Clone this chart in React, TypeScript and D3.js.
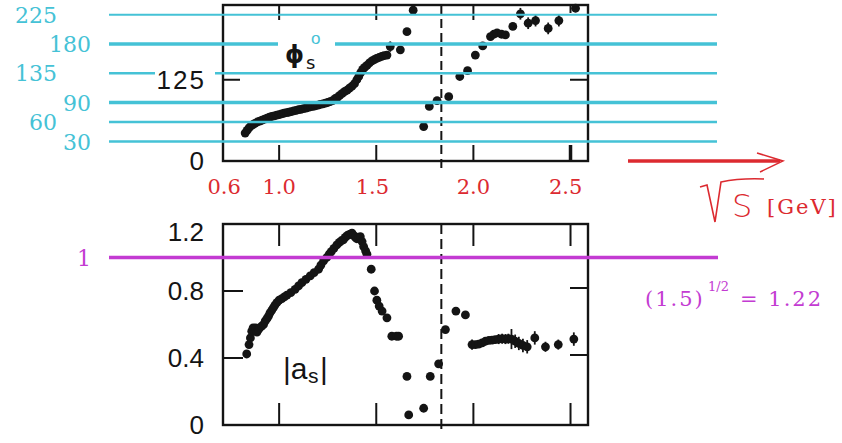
import React from 'react';
import * as d3 from 'd3';

// --- phase phi_s (degrees) ---
const phiEnergy = [
  0.825, 0.835, 0.845, 0.855, 0.865, 0.875, 0.888, 0.9, 0.912, 0.925, 0.938, 0.95, 0.962, 0.975, 0.988,
  1.0, 1.012, 1.025, 1.038, 1.05, 1.062, 1.075, 1.088, 1.1, 1.112, 1.125, 1.138, 1.15, 1.162, 1.175,
  1.188, 1.2, 1.212, 1.225, 1.238, 1.25, 1.262, 1.275, 1.288, 1.3, 1.312, 1.325, 1.338, 1.35, 1.362,
  1.375, 1.388, 1.4, 1.41, 1.42, 1.43, 1.44, 1.452, 1.465, 1.478, 1.49, 1.502, 1.515, 1.528, 1.54, 1.555,
  1.572, 1.624, 1.658, 1.69, 1.744, 1.773, 1.813, 1.873, 1.93, 1.97, 2.01, 2.048, 2.088, 2.105, 2.122,
  2.145, 2.165, 2.203, 2.242, 2.282, 2.32, 2.385, 2.44, 2.526,
];
const phiDeg = [
  43, 47, 51, 54, 56, 58, 60, 61.5, 63, 64.5, 66, 67.5, 68.5, 69.5, 70.5,
  71.5, 72.5, 73.5, 74.5, 75, 76, 77, 78, 79, 79.5, 80.5, 81.5, 82.5, 83.5, 84,
  85, 86, 87, 88, 89, 90, 91.5, 93, 96, 98, 101, 104, 107, 109, 112,
  115, 119, 125, 130, 136, 141, 144, 147, 151, 154, 156, 158, 159.5, 161, 162, 163,
  176, 171, 199, 232, 53, 84, 93, 99, 130, 139, 163, 177, 191.5, 195, 197,
  195, 194, 207, 226.5, 212, 216, 204, 216, 235,
];
const phiErr = [
  0, 0, 0, 0, 0, 0, 0, 0, 0, 0, 0, 0, 0, 0, 0,
  0, 0, 0, 0, 0, 0, 0, 0, 0, 0, 0, 0, 0, 0, 0,
  0, 0, 0, 0, 0, 0, 0, 0, 0, 0, 0, 0, 0, 0, 0,
  0, 0, 0, 0, 0, 0, 0, 0, 0, 0, 0, 0, 0, 0, 0, 0,
  8, 0, 0, 6, 0, 0, 5, 0, 0, 0, 0, 0, 0, 0, 0,
  0, 0, 0, 9, 9, 9, 9, 9, 6,
];

// --- modulus |a_s| ---
const ampEnergy = [
  0.833, 0.845, 0.852, 0.859, 0.866, 0.872, 0.879, 0.886, 0.893, 0.9, 0.91, 0.92, 0.928, 0.937, 0.945,
  0.953, 0.962, 0.97, 0.978, 0.988, 1.0, 1.014, 1.027, 1.04, 1.06, 1.082, 1.1, 1.117, 1.138, 1.16,
  1.18, 1.203, 1.215, 1.229, 1.245, 1.258, 1.268, 1.282, 1.297, 1.31, 1.32, 1.33, 1.34, 1.35, 1.357,
  1.366, 1.375, 1.385, 1.393, 1.4, 1.41, 1.418, 1.427, 1.435, 1.445, 1.452, 1.474, 1.491, 1.503, 1.515,
  1.53, 1.555, 1.58, 1.604, 1.615, 1.658, 1.667, 1.744, 1.778, 1.821, 1.856, 1.91, 1.959, 1.993, 2.01,
  2.027, 2.045, 2.062, 2.08, 2.096, 2.113, 2.13, 2.148, 2.165, 2.18, 2.196, 2.215, 2.234, 2.255, 2.277,
  2.316, 2.371, 2.437, 2.517,
];
const ampValue = [
  0.424, 0.48, 0.52, 0.56, 0.58, 0.56, 0.58, 0.555, 0.57, 0.58, 0.59, 0.6, 0.62, 0.635, 0.65,
  0.67, 0.685, 0.7, 0.715, 0.73, 0.745, 0.755, 0.765, 0.775, 0.79, 0.81, 0.83, 0.85, 0.87, 0.89,
  0.91, 0.93, 0.955, 0.98, 1.0, 1.02, 1.035, 1.055, 1.075, 1.09, 1.1, 1.105, 1.12, 1.13, 1.135,
  1.14, 1.145, 1.13, 1.12, 1.112, 1.12, 1.124, 1.095, 1.065, 1.04, 1.02, 0.93, 0.8, 0.745, 0.71,
  0.68, 0.64, 0.53, 0.53, 0.53, 0.29, 0.06, 0.1, 0.29, 0.365, 0.57, 0.68, 0.657, 0.48, 0.48,
  0.483, 0.49, 0.5, 0.505, 0.507, 0.51, 0.513, 0.515, 0.513, 0.515, 0.513, 0.5, 0.487, 0.475, 0.467,
  0.52, 0.467, 0.48, 0.513,
];
const ampErr = [
  0, 0, 0, 0, 0, 0, 0, 0, 0, 0, 0, 0, 0, 0, 0,
  0, 0, 0, 0, 0, 0, 0, 0, 0, 0, 0, 0, 0, 0, 0,
  0, 0, 0, 0, 0, 0, 0, 0, 0, 0, 0, 0, 0, 0, 0,
  0, 0, 0, 0, 0, 0, 0, 0, 0, 0, 0, 0, 0, 0, 0,
  0, 0, 0, 0, 0, 0, 0, 0, 0, 0, 0, 0, 0, 0.03, 0.02,
  0.02, 0.02, 0.02, 0.02, 0.02, 0.02, 0.03, 0.03, 0.03, 0.03, 0.06, 0.04, 0.04, 0.04, 0.04,
  0.04, 0.03, 0.03, 0.04,
];

// --- ticks and labels ---
const energyTicks = [1.0, 1.5, 2.0, 2.5];
const phiTickLabels = [0, 125];
const degreeGuides = [225, 180, 135, 90, 60, 30];
const ampTickLabels = [0, 0.4, 0.8, 1.2];
const ampInnerTicks = [0.4, 0.8];
const redEnergyLabels = ['0.6', '1.0', '1.5', '2.0', '2.5'];
const redEnergyLabelAt = [0.717, 1.0, 1.48, 2.0, 2.475];
const thresholdEnergy = 1.835;
const unitModulus = 1;

const W = 842;
const H = 443;
const INK = '#141414';
const CYAN = '#45c2d6';
const MAGENTA = '#c33bd2';
const RED = '#dc2a30';
const SERIF = '"DejaVu Serif", serif';
const SANS = '"Liberation Sans", Arial, sans-serif';

const x = d3.scaleLinear().domain([0.711, 2.59]).range([223, 588]);
const yPhi = d3.scaleLinear().domain([0, 240]).range([161, 5]);
const yAmp = d3.scaleLinear().domain([0, 1.2]).range([425, 224]);

const phiData = phiEnergy.map((e, i) => ({ e, v: phiDeg[i], err: phiErr[i] }));
const ampData = ampEnergy.map((e, i) => ({ e, v: ampValue[i], err: ampErr[i] }));

const Points = ({ data, y }) => (
  <g>
    {data.map((d, i) =>
      d.err > 0 ? (
        <line key={'e' + i} x1={x(d.e)} x2={x(d.e)} y1={y(d.v - d.err)} y2={y(d.v + d.err)}
          stroke={INK} strokeWidth={1.8} />
      ) : null
    )}
    {data.map((d, i) => (
      <circle key={i} cx={x(d.e)} cy={y(d.v)} r={4.4} fill={INK} />
    ))}
  </g>
);

const App = () => {
  const [l, r] = x.range();
  const topY0 = yPhi(240);
  const topY1 = yPhi(0);
  const botY0 = yAmp(1.2);
  const botY1 = yAmp(0);

  // cyan guide segments with gaps left open for the labels
  const guideGaps = { 180: [278, 335], 135: [155, 215] };
  const guideStart = 109;
  const guideEnd = 717;

  return (
    <svg width={W} height={H} style={{ position: 'absolute', left: 0, top: 0, background: '#fff' }}>
      <rect width={W} height={H} fill="#fff" />

      {/* ===== upper panel: phase ===== */}
      <g>
        <rect x={l} y={topY0} width={r - l} height={topY1 - topY0} fill="none" stroke={INK} strokeWidth={2.4} />
        {energyTicks.map(t => (
          <g key={t}>
            <line x1={x(t)} x2={x(t)} y1={topY1} y2={topY1 - 16} stroke={INK} strokeWidth={t === 2.5 ? 3.5 : 2} />
            <line x1={x(t)} x2={x(t)} y1={topY0} y2={topY0 + (t === 2.5 ? 8 : 15)} stroke={INK} strokeWidth={2} />
          </g>
        ))}
        <line x1={l} x2={l + 17} y1={yPhi(125)} y2={yPhi(125)} stroke={INK} strokeWidth={2} />
        <line x1={r} x2={r - 18} y1={yPhi(125)} y2={yPhi(125)} stroke={INK} strokeWidth={2} />
        {phiTickLabels.map(t => (
          <text key={t} x={206} y={yPhi(t) + 9} textAnchor="end" fontFamily={SANS} fontSize={26}
            letterSpacing={2} fill={INK}>{t}</text>
        ))}
        <line x1={x(thresholdEnergy)} x2={x(thresholdEnergy)} y1={topY0} y2={topY1 + 9}
          stroke={INK} strokeWidth={2} strokeDasharray="9,5" />
        <Points data={phiData} y={yPhi} />
        <text x={285} y={63} fontFamily='"DejaVu Sans", sans-serif' fontSize={24} fontWeight="bold" fill={INK}>ϕ</text>
        <text x={306} y={69} fontFamily='"DejaVu Sans", sans-serif' fontSize={18} fill={INK}>s</text>
      </g>

      {/* cyan degree guides */}
      <g>
        {degreeGuides.map((g, i) => {
          const gap = guideGaps[g];
          const yy = yPhi(g);
          const sw = g === 180 || g === 90 ? 3.4 : g === 225 ? 2.2 : 2.7;
          return (
            <g key={g}>
              {gap ? (
                <>
                  <line x1={guideStart} x2={gap[0]} y1={yy} y2={yy} stroke={CYAN} strokeWidth={sw} />
                  <line x1={gap[1]} x2={guideEnd} y1={yy} y2={yy} stroke={CYAN} strokeWidth={sw} />
                </>
              ) : (
                <line x1={guideStart} x2={guideEnd} y1={yy} y2={yy} stroke={CYAN} strokeWidth={sw} />
              )}
              <text x={i % 2 === 0 ? 57 : 91} y={yy + 8} textAnchor="end" fontFamily={SERIF} fontSize={22}
                fill={CYAN}>{g}</text>
            </g>
          );
        })}
        <text x={311} y={44} fontFamily={SANS} fontSize={17} fill={CYAN}>o</text>
      </g>

      {/* red energy labels and arrow */}
      <g>
        {redEnergyLabels.map((s, i) => (
          <text key={s} x={x(redEnergyLabelAt[i])} y={194} textAnchor="middle" fontFamily={SERIF}
            fontSize={21} fill={RED}>{s}</text>
        ))}
        <line x1={628} x2={780} y1={161} y2={161} stroke={RED} strokeWidth={3.6} />
        <polyline points="757,153 783,161 760,172" fill="none" stroke={RED} strokeWidth={1.5} />
        <path d="M700,187 L707,185 L715,222 L721,182 Q740,178 764,179" fill="none" stroke={RED} strokeWidth={1.6} />
        <text x={732} y={217} fontFamily='"DejaVu Sans", sans-serif' fontSize={32} fontWeight={200} fill={RED}>S</text>
        <text x={767} y={214} fontFamily={SERIF} fontSize={21} letterSpacing={2} fill={RED}>[GeV]</text>
      </g>

      {/* ===== lower panel: modulus ===== */}
      <g>
        <rect x={l} y={botY0} width={r - l} height={botY1 - botY0} fill="none" stroke={INK} strokeWidth={2.4} />
        {energyTicks.map(t => (
          <g key={t}>
            <line x1={x(t)} x2={x(t)} y1={botY1} y2={botY1 - 22} stroke={INK} strokeWidth={2} />
            <line x1={x(t)} x2={x(t)} y1={botY0} y2={botY0 + 22} stroke={INK} strokeWidth={2} />
          </g>
        ))}
        {ampInnerTicks.map(t => (
          <g key={t}>
            <line x1={l} x2={l + 20} y1={yAmp(t)} y2={yAmp(t)} stroke={INK} strokeWidth={2} />
            <line x1={r} x2={r - 18} y1={yAmp(t) - 3} y2={yAmp(t) - 3} stroke={INK} strokeWidth={2} />
          </g>
        ))}
        {ampTickLabels.map(t => (
          <text key={t} x={204} y={yAmp(t) + (t === 1.2 ? 17 : 9)} textAnchor="end" fontFamily={SANS}
            fontSize={26} fill={INK}>{t === 0 ? '0' : t.toFixed(1)}</text>
        ))}
        <line x1={x(thresholdEnergy)} x2={x(thresholdEnergy)} y1={botY0} y2={botY1 + 5}
          stroke={INK} strokeWidth={2} strokeDasharray="10,5" />
        <Points data={ampData} y={yAmp} />
        <text x={283} y={379} fontFamily={SANS} fontSize={30} fill={INK}>|a</text>
        <text x={308} y={383} fontFamily={SANS} fontSize={21} fill={INK}>s</text>
        <text x={320} y={379} fontFamily={SANS} fontSize={30} fill={INK}>|</text>
      </g>

      {/* magenta unitarity line */}
      <g>
        <line x1={guideStart} x2={718} y1={yAmp(unitModulus)} y2={yAmp(unitModulus)} stroke={MAGENTA} strokeWidth={3.4} />
        <text x={91} y={yAmp(unitModulus) + 8} textAnchor="end" fontFamily={SERIF} fontSize={22} fill={MAGENTA}>1</text>
        <text x={645} y={306} fontFamily={SERIF} fontSize={21} letterSpacing={2} fill={MAGENTA}>(1.5)</text>
        <text x={708} y={291} fontFamily={SERIF} fontSize={13} fill={MAGENTA}>1/2</text>
        <text x={740} y={306} fontFamily={SERIF} fontSize={21} letterSpacing={2} fill={MAGENTA}>= 1.22</text>
      </g>
    </svg>
  );
};

export default App;
